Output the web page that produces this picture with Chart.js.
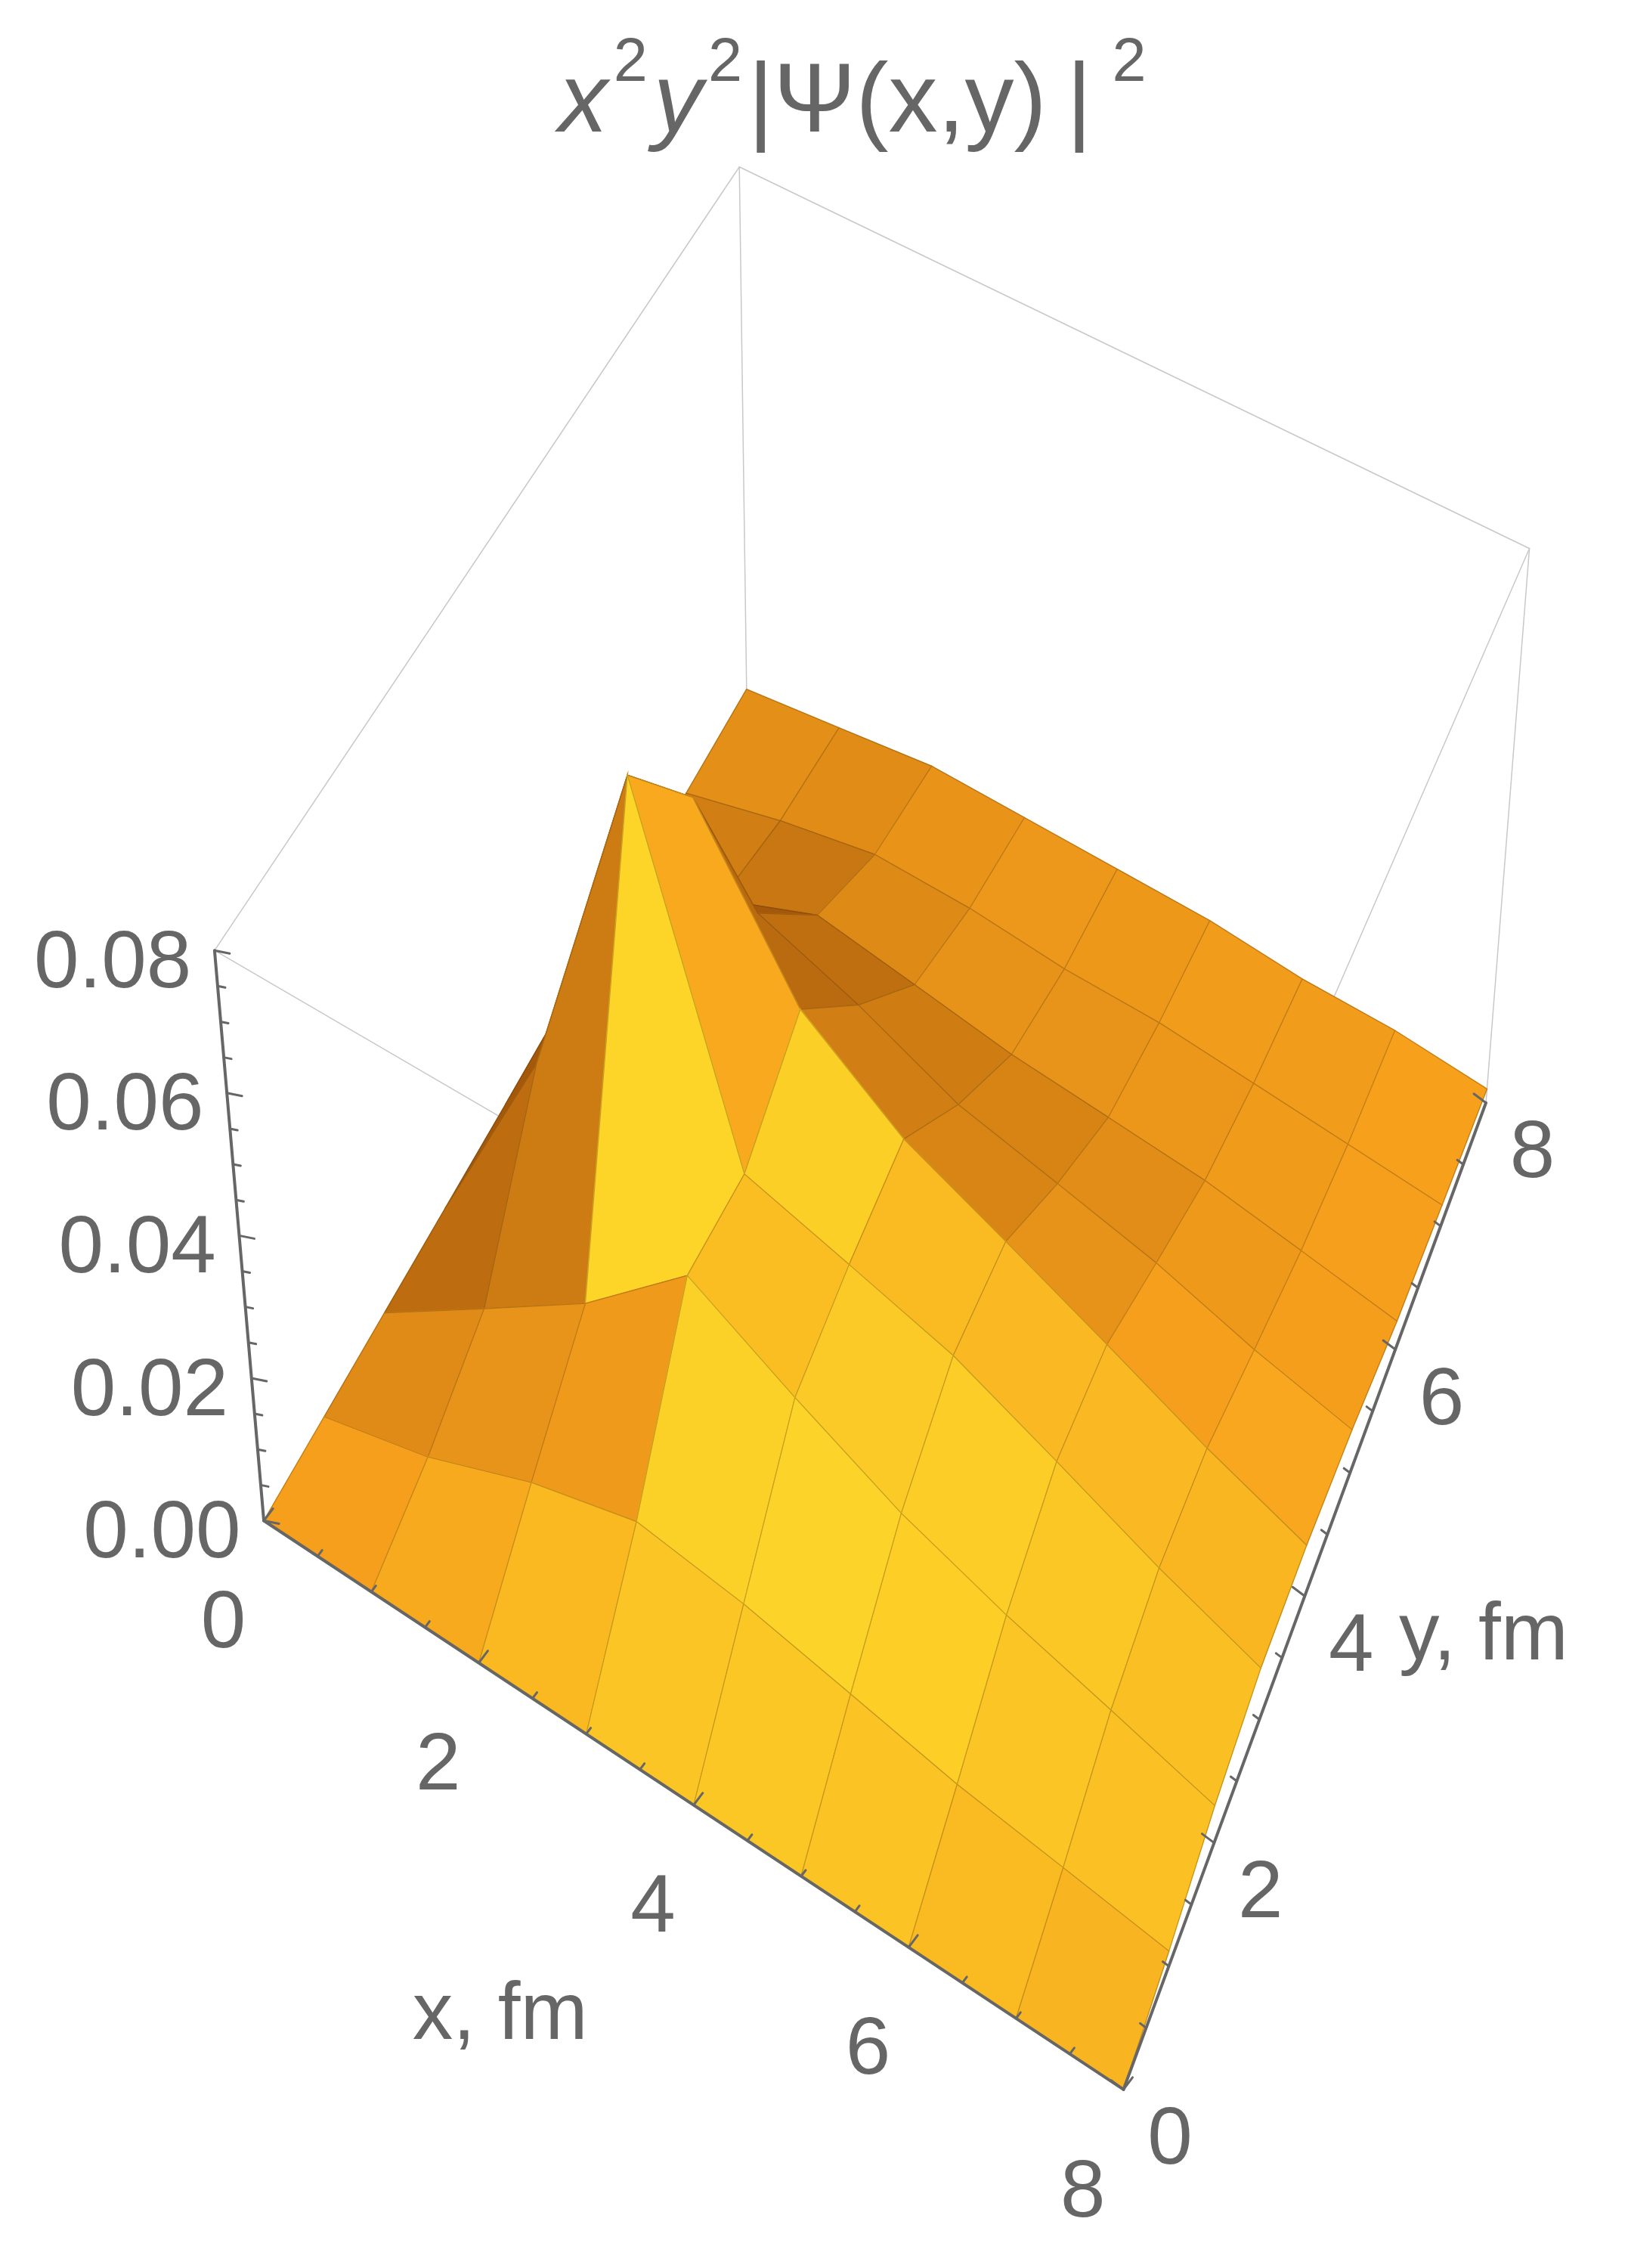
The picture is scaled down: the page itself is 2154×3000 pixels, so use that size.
<!DOCTYPE html>
<html>
<head>
<meta charset="utf-8">
<script src="https://cdn.jsdelivr.net/npm/chart.js@4.4.0/dist/chart.umd.min.js"></script>
<style>
  html, body { margin: 0; padding: 0; background: #fff; }
  #wrap { width: 2154px; height: 3000px; }
</style>
</head>
<body>
<div id="wrap"><canvas id="c" width="2154" height="3000"></canvas></div>
<script>
// grid nodes (fm)
const xValues = [0, 1, 2, 3, 4, 5, 6, 7, 8];
const yValues = [0, 1, 2, 3, 4, 5, 6, 7, 8];
// z values, one row per y value, columns follow xValues
const zRows = [
  [0, 0.000, 0.000, 0.000, 0.000, 0.000, 0.000, 0.000, 0.000],
  [0, 0.004, 0.010, 0.014, 0.012, 0.009, 0.006, 0.004, 0.002],
  [0, 0.010, 0.020, 0.033, 0.025, 0.018, 0.013, 0.009, 0.005],
  [0, 0.030, 0.080, 0.032, 0.028, 0.024, 0.018, 0.012, 0.007],
  [0, 0.032, 0.062, 0.040, 0.030, 0.024, 0.018, 0.012, 0.007],
  [0, 0.016, 0.030, 0.025, 0.019, 0.016, 0.013, 0.009, 0.006],
  [0, 0.008, 0.014, 0.012, 0.010, 0.009, 0.008, 0.006, 0.004],
  [0, 0.004, 0.007, 0.007, 0.006, 0.006, 0.005, 0.004, 0.003],
  [0, 0.002, 0.004, 0.004, 0.004, 0.004, 0.003, 0.003, 0.002]
];
const xTicks = [0, 2, 4, 6, 8];
const yTicks = [0, 2, 4, 6, 8];
const zTicks = [0, 0.02, 0.04, 0.06, 0.08];
const zTickLabels = ["0.00", "0.02", "0.04", "0.06", "0.08"];
const zMax = 0.08;

// view frame (in the 1123 x 1563 design units of the scales)
const W = 1123, H = 1563, K = 2154 / 1123;
const P00 = [182, 1048], P10 = [775, 1440], P01 = [515, 475], P11 = [1025, 760];
const H00 = [-34, -393], H10 = [0, -420], H01 = [-5, -360], H11 = [30, -382];

function bil(a, b, c, d, u, v) {
  return [
    (1-u)*(1-v)*a[0] + u*(1-v)*b[0] + (1-u)*v*c[0] + u*v*d[0],
    (1-u)*(1-v)*a[1] + u*(1-v)*b[1] + (1-u)*v*c[1] + u*v*d[1]
  ];
}
function proj(chart, x, y, z) {
  const u = x / 8, v = y / 8, w = z / zMax;
  const b = bil(P00, P10, P01, P11, u, v);
  const h = bil(H00, H10, H01, H11, u, v);
  return [chart.scales.x.getPixelForValue(b[0] + w*h[0]),
          chart.scales.y.getPixelForValue(b[1] + w*h[1])];
}

function mix(a, b, t) { return a.map((v, i) => Math.round(v + (b[i]-v)*t)); }
function shade(s) {
  const dark = [165, 88, 10], orange = [247, 160, 28], yellow = [255, 234, 45];
  if (s >= 0) return mix(orange, yellow, Math.min(1, s));
  return mix(orange, dark, Math.min(1, -s * 0.7));
}

const surfacePlugin = {
  id: 'surface',
  afterDatasetsDraw(chart) {
    const ctx = chart.ctx;
    const P = (x, y, z) => proj(chart, x, y, z);
    ctx.save();
    ctx.lineCap = 'round';

    // bounding box
    ctx.strokeStyle = '#c8c8c8';
    ctx.lineWidth = 1.5;
    const c = [[0,0],[8,0],[8,8],[0,8]];
    const seg = (a, b) => { ctx.beginPath(); ctx.moveTo(...a); ctx.lineTo(...b); ctx.stroke(); };
    for (let i = 0; i < 4; i++) {
      const a = c[i], b = c[(i+1)%4];
      seg(P(a[0], a[1], zMax), P(b[0], b[1], zMax));
      seg(P(a[0], a[1], 0), P(b[0], b[1], 0));
      seg(P(a[0], a[1], 0), P(a[0], a[1], zMax));
    }

    // surface quads, far ones first
    const quads = [];
    for (let j = 0; j < yValues.length - 1; j++) {
      for (let i = 0; i < xValues.length - 1; i++) quads.push([i, j]);
    }
    quads.sort((a, b) => (a[0] - a[1]) - (b[0] - b[1]) || (b[1] - a[1]));
    const L = [0.55, -0.55, 0.63];
    const Ln = Math.hypot(...L);
    for (const [i, j] of quads) {
      const x0 = xValues[i], x1 = xValues[i+1], y0 = yValues[j], y1 = yValues[j+1];
      const z00 = zRows[j][i], z10 = zRows[j][i+1], z01 = zRows[j+1][i], z11 = zRows[j+1][i+1];
      const sc = 5 / zMax;
      const dzdx = ((z10 - z00) + (z11 - z01)) / 2 / (x1 - x0) * sc;
      const dzdy = ((z01 - z00) + (z11 - z10)) / 2 / (y1 - y0) * sc;
      const n = [-dzdx, -dzdy, 1];
      const nn = Math.hypot(...n);
      const d = (n[0]*L[0] + n[1]*L[1] + n[2]*L[2]) / (nn * Ln);
      const s = (d - L[2] / Ln) * 2.2;
      const col = shade(s);
      const pts = [P(x0, y0, z00), P(x1, y0, z10), P(x1, y1, z11), P(x0, y1, z01)];
      ctx.beginPath();
      ctx.moveTo(...pts[0]);
      for (let k = 1; k < 4; k++) ctx.lineTo(...pts[k]);
      ctx.closePath();
      ctx.fillStyle = `rgb(${col[0]},${col[1]},${col[2]})`;
      ctx.strokeStyle = ctx.fillStyle;
      ctx.lineWidth = 1.5;
      ctx.fill();
      ctx.stroke();
      ctx.strokeStyle = 'rgba(90,60,20,0.35)';
      ctx.lineWidth = 1.2;
      ctx.stroke();
    }

    // axes
    ctx.strokeStyle = '#666';
    ctx.lineWidth = 4;
    seg(P(0, 0, 0), P(8, 0, 0));
    seg(P(8, 0, 0), P(8, 8, 0));
    seg(P(0, 0, 0), P(0, 0, zMax));
    ctx.lineWidth = 3;
    const tick = (a, dx, dy, len) => {
      ctx.beginPath(); ctx.moveTo(...a); ctx.lineTo(a[0] + dx*len, a[1] + dy*len); ctx.stroke();
    };
    for (let t = 0; t <= 8.001; t += 0.5) {
      const major = Math.abs(t % 2) < 1e-6;
      tick(P(t, 0, 0), 0.6, -0.8, major ? 20 : 10);
      tick(P(8, t, 0), -0.8, -0.6, major ? 20 : 10);
    }
    for (let t = 0; t <= zMax + 1e-9; t += 0.005) {
      const major = Math.abs((t / 0.02) - Math.round(t / 0.02)) < 1e-6;
      tick(P(0, 0, t), 1, 0.2, major ? 20 : 10);
    }

    // labels
    ctx.fillStyle = '#666';
    ctx.textBaseline = 'middle';
    const fs = Math.round(56 * K);
    ctx.font = `${fs}px "Liberation Sans", Arial, sans-serif`;
    ctx.textAlign = 'right';
    zTicks.forEach((t, k) => {
      const p = P(0, 0, t);
      ctx.fillText(zTickLabels[k], p[0] - 16*K, p[1] + 10*K);
    });
    ctx.textAlign = 'center';
    xTicks.forEach(t => {
      const p = P(t, 0, 0);
      ctx.fillText(String(t), p[0] - 28*K, p[1] + 72*K);
    });
    yTicks.forEach(t => {
      const p = P(8, t, 0);
      ctx.fillText(String(t), p[0] + 32*K, p[1] + 36*K);
    });
    const sx = v => chart.scales.x.getPixelForValue(v);
    const sy = v => chart.scales.y.getPixelForValue(v);
    ctx.fillText('x, fm', sx(345), sy(1390));
    ctx.textAlign = 'left';
    ctx.fillText('y, fm', sx(965), sy(1128));

    // title
    const tf = Math.round(68 * K), sf = Math.round(42 * K);
    const parts = [
      ['x', 'italic', tf, 0, 4], ['2', '', sf, -28, 4], ['y', 'italic', tf, 0, 4], ['2', '', sf, -28, 4],
      ['|\u03A8(x,y)\u2009|', '', tf, 0, 14], ['2', '', sf, -28, 0]
    ];
    let total = 0;
    for (const p of parts) {
      ctx.font = `${p[1]} ${p[2]}px "Liberation Sans", Arial, sans-serif`;
      total += ctx.measureText(p[0]).width + p[4] * K;
    }
    let x = sx(588) - total / 2;
    ctx.textAlign = 'left';
    for (const p of parts) {
      ctx.font = `${p[1]} ${p[2]}px "Liberation Sans", Arial, sans-serif`;
      ctx.fillText(p[0], x, sy(72 + p[3]));
      x += ctx.measureText(p[0]).width + p[4] * K;
    }
    ctx.restore();
  }
};

new Chart(document.getElementById('c'), {
  type: 'scatter',
  data: { datasets: [{ data: [], pointRadius: 0 }] },
  options: {
    responsive: false,
    animation: false,
    devicePixelRatio: 1,
    layout: { padding: 0 },
    plugins: { legend: { display: false }, tooltip: { enabled: false } },
    scales: {
      x: { type: 'linear', min: 0, max: W, display: false },
      y: { type: 'linear', min: 0, max: H, reverse: true, display: false }
    }
  },
  plugins: [surfacePlugin]
});
</script>
</body>
</html>
